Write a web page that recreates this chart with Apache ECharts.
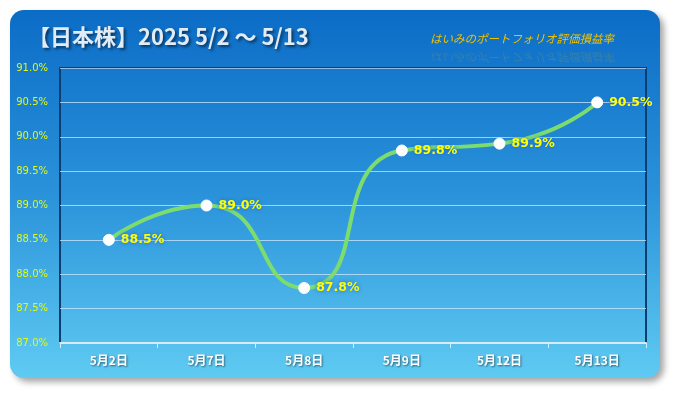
<!DOCTYPE html>
<html><head><meta charset="utf-8">
<script src="https://cdn.jsdelivr.net/npm/echarts@6/dist/echarts.min.js"></script>
<style>html,body{margin:0;padding:0;background:#fff;}#c{width:675px;height:393px;}</style>
</head><body><div id="c"></div>
<script>
const categories = ['5月2日','5月7日','5月8日','5月9日','5月12日','5月13日'];
const values = [88.5, 89.0, 87.8, 89.8, 89.9, 90.5];
const yMin = 87.0, yMax = 91.0, yInterval = 0.5;
const titleText = '【日本株】2025 5/2 〜 5/13';
const subtitleText = 'はいみのポートフォリオ評価損益率';

const chart = echarts.init(document.getElementById('c'), null, {renderer:'canvas'});
const FONT = '"Noto Sans CJK JP", "Noto Sans", sans-serif';
chart.setOption({
  animation:false,
  backgroundColor:'#ffffff',
  graphic:[
    {type:'rect', z:-10, shape:{x:10,y:10,width:650,height:368,r:14},
     style:{fill:new echarts.graphic.LinearGradient(0,0,0,1,[{offset:0,color:'#0b6cc6'},{offset:0.5,color:'#2a92da'},{offset:1,color:'#5fcbf2'}]),
       shadowColor:'rgba(0,0,0,0.35)', shadowBlur:6, shadowOffsetX:4, shadowOffsetY:4}},
    {type:'text', left:28, top:26, z:10,
     style:{text:titleText, font:'bold 22px '+FONT, fill:'#e2ecf6',
       textShadowColor:'rgba(0,0,0,0.55)', textShadowBlur:3, textShadowOffsetX:2, textShadowOffsetY:2}},
    {type:'text', x:430, y:33, z:10,
     style:{text:subtitleText, font:'italic 11.5px '+FONT, fill:'#f2c200'}},
    {type:'text', x:430, y:63, scaleY:-1, z:9,
     style:{text:subtitleText, font:'italic 11.5px '+FONT, fill:'rgba(242,194,0,0.15)'}}
  ],
  grid:{left:60, right:29, top:68, bottom:50, show:true, borderColor:'#0a3e72', borderWidth:2, backgroundColor:'transparent'},
  xAxis:{type:'category', data:categories, boundaryGap:true,
    axisLine:{lineStyle:{color:'#d8ecf8', width:2}},
    axisTick:{show:true, lineStyle:{color:'#d8ecf8'}, length:5, inside:false},
    axisLabel:{color:'#ffffff', fontWeight:'bold', fontSize:12, margin:11, fontFamily:FONT,
      textShadowColor:'rgba(0,0,0,0.5)', textShadowBlur:2, textShadowOffsetX:1, textShadowOffsetY:1}},
  yAxis:{type:'value', min:yMin, max:yMax, interval:yInterval,
    axisLine:{show:false}, axisTick:{show:false},
    splitLine:{lineStyle:{color:'rgba(205,230,255,0.75)', width:1}},
    axisLabel:{color:'#e0f818', fontSize:10, margin:12, fontFamily:'"DejaVu Sans", sans-serif',
      formatter:v=>v.toFixed(1)+'%'}},
  series:[{
    type:'line', data:values, smooth:0.6,
    lineStyle:{color:'#7ddc6e', width:4},
    symbol:'circle', symbolSize:11,
    itemStyle:{color:'#ffffff', borderColor:'#ffffff'},
    label:{show:true, position:'right', distance:6, color:'#ffff00', fontWeight:'bold', fontSize:12.5,
      fontFamily:'"DejaVu Sans", sans-serif',
      textShadowColor:'#1662d8', textShadowBlur:5,
      formatter:p=>p.value.toFixed(1)+'%'}
  }]
});
</script></body></html>
